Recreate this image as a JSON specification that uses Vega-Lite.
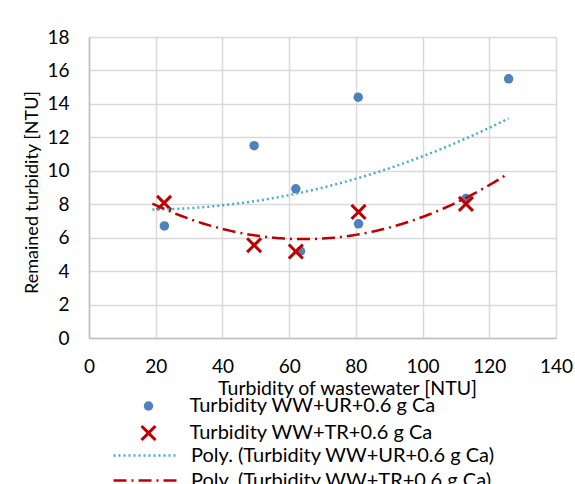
{
  "$schema": "https://vega.github.io/schema/vega-lite/v6.json",
  "autosize": {"type": "none"},
  "width": 467,
  "height": 301,
  "padding": {"left": 89, "top": 37, "right": 19, "bottom": 146},
  "background": "white",
  "config": {
    "font": "Lato",
    "view": {"stroke": null},
    "axis": {
      "labelFont": "Lato",
      "labelFontSize": 19,
      "labelColor": "#000000",
      "labelFlush": false,
      "labelOverlap": false,
      "titleFont": "Lato",
      "titleFontSize": 19.5,
      "titleFontWeight": "normal",
      "titleColor": "#000000",
      "gridColor": "#D9D9D9",
      "gridWidth": 1.5,
      "domainColor": "#BFBFBF",
      "domainWidth": 1.5,
      "ticks": false
    },
    "legend": {
      "labelFont": "Lato",
      "labelFontSize": 20,
      "labelColor": "#000000",
      "labelLimit": 0
    }
  },
  "data": {
    "values": [
      {"x": 22.6, "y": 6.7, "series": "Turbidity WW+UR+0.6 g Ca", "trend": "Poly. (Turbidity WW+UR+0.6 g Ca)"},
      {"x": 49.5, "y": 11.5, "series": "Turbidity WW+UR+0.6 g Ca", "trend": "Poly. (Turbidity WW+UR+0.6 g Ca)"},
      {"x": 62.0, "y": 8.92, "series": "Turbidity WW+UR+0.6 g Ca", "trend": "Poly. (Turbidity WW+UR+0.6 g Ca)"},
      {"x": 63.4, "y": 5.19, "series": "Turbidity WW+UR+0.6 g Ca", "trend": "Poly. (Turbidity WW+UR+0.6 g Ca)"},
      {"x": 80.7, "y": 14.4, "series": "Turbidity WW+UR+0.6 g Ca", "trend": "Poly. (Turbidity WW+UR+0.6 g Ca)"},
      {"x": 80.8, "y": 6.83, "series": "Turbidity WW+UR+0.6 g Ca", "trend": "Poly. (Turbidity WW+UR+0.6 g Ca)"},
      {"x": 113.0, "y": 8.34, "series": "Turbidity WW+UR+0.6 g Ca", "trend": "Poly. (Turbidity WW+UR+0.6 g Ca)"},
      {"x": 125.8, "y": 15.5, "series": "Turbidity WW+UR+0.6 g Ca", "trend": "Poly. (Turbidity WW+UR+0.6 g Ca)"},
      {"x": 22.5, "y": 8.08, "series": "Turbidity WW+TR+0.6 g Ca", "trend": "Poly. (Turbidity WW+TR+0.6 g Ca)"},
      {"x": 49.5, "y": 5.55, "series": "Turbidity WW+TR+0.6 g Ca", "trend": "Poly. (Turbidity WW+TR+0.6 g Ca)"},
      {"x": 62.0, "y": 5.17, "series": "Turbidity WW+TR+0.6 g Ca", "trend": "Poly. (Turbidity WW+TR+0.6 g Ca)"},
      {"x": 80.8, "y": 7.54, "series": "Turbidity WW+TR+0.6 g Ca", "trend": "Poly. (Turbidity WW+TR+0.6 g Ca)"},
      {"x": 113.0, "y": 8.02, "series": "Turbidity WW+TR+0.6 g Ca", "trend": "Poly. (Turbidity WW+TR+0.6 g Ca)"}
    ]
  },
  "encoding": {
    "x": {
      "field": "x",
      "type": "quantitative",
      "scale": {"domain": [0, 140], "nice": false, "zero": false},
      "axis": {
        "title": "Turbidity of wastewater [NTU]",
        "values": [0, 20, 40, 60, 80, 100, 120, 140],
        "labelPadding": 19.5,
        "titleX": 258,
        "titleY": 50.5,
        "titleAlign": "center",
        "titleBaseline": "middle",
        "titleAnchor": null
      }
    },
    "y": {
      "field": "y",
      "type": "quantitative",
      "scale": {"domain": [0, 18], "nice": false, "zero": false},
      "axis": {
        "title": "Remained turbidity [NTU]",
        "values": [0, 2, 4, 6, 8, 10, 12, 14, 16, 18],
        "labelPadding": 20,
        "titleFontSize": 18,
        "titleX": -57,
        "titleY": 155,
        "titleAngle": -90,
        "titleAlign": "center",
        "titleBaseline": "middle",
        "titleAnchor": null
      }
    }
  },
  "layer": [
    {
      "mark": {"type": "point", "filled": true, "opacity": 1, "size": 90, "strokeWidth": 0},
      "encoding": {
        "color": {
          "field": "series",
          "type": "nominal",
          "scale": {
            "domain": ["Turbidity WW+UR+0.6 g Ca", "Turbidity WW+TR+0.6 g Ca"],
            "range": ["#4F81BD", "#C00000"]
          },
          "legend": {
            "title": null,
            "orient": "none",
            "legendX": 49.5,
            "legendY": 359,
            "rowPadding": 5,
            "labelOffset": 31,
            "symbolSize": 90,
            "symbolOpacity": 1
          }
        },
        "shape": {
          "field": "series",
          "type": "nominal",
          "scale": {
            "domain": ["Turbidity WW+UR+0.6 g Ca", "Turbidity WW+TR+0.6 g Ca"],
            "range": ["circle", "M0,-0.45L1.25,-1.7L1.7,-1.25L0.45,0L1.7,1.25L1.25,1.7L0,0.45L-1.25,1.7L-1.7,1.25L-0.45,0L-1.7,-1.25L-1.25,-1.7Z"]
          },
          "legend": {
            "title": null,
            "orient": "none",
            "legendX": 49.5,
            "legendY": 359,
            "rowPadding": 5,
            "labelOffset": 31,
            "symbolSize": 90,
            "symbolOpacity": 1
          }
        }
      }
    },
    {
      "transform": [
        {"regression": "y", "on": "x", "groupby": ["trend"], "method": "poly", "order": 2, "extent": [19, 125.8]}
      ],
      "mark": {"type": "line", "strokeWidth": 2.5, "strokeCap": "butt"},
      "encoding": {
        "color": {
          "field": "trend",
          "type": "nominal",
          "scale": {
            "domain": ["Poly. (Turbidity WW+UR+0.6 g Ca)", "Poly. (Turbidity WW+TR+0.6 g Ca)"],
            "range": ["#4BACC6", "#C00000"]
          },
          "legend": {
            "title": null,
            "orient": "none",
            "legendX": 47,
            "legendY": 408.5,
            "rowPadding": 5,
            "labelOffset": 35,
            "symbolType": "M-8,0L8,0",
            "symbolSize": 66,
            "symbolStrokeWidth": 2.5
          }
        },
        "strokeDash": {
          "field": "trend",
          "type": "nominal",
          "scale": {
            "domain": ["Poly. (Turbidity WW+UR+0.6 g Ca)", "Poly. (Turbidity WW+TR+0.6 g Ca)"],
            "range": [[2, 3], [13, 5, 2, 5]]
          },
          "legend": {
            "title": null,
            "orient": "none",
            "legendX": 47,
            "legendY": 408.5,
            "rowPadding": 5,
            "labelOffset": 35,
            "symbolType": "M-8,0L8,0",
            "symbolSize": 66,
            "symbolStrokeWidth": 2.5
          }
        }
      }
    }
  ],
  "resolve": {
    "scale": {"color": "independent", "shape": "independent", "strokeDash": "independent"},
    "legend": {"color": "independent", "shape": "independent", "strokeDash": "independent"}
  }
}
